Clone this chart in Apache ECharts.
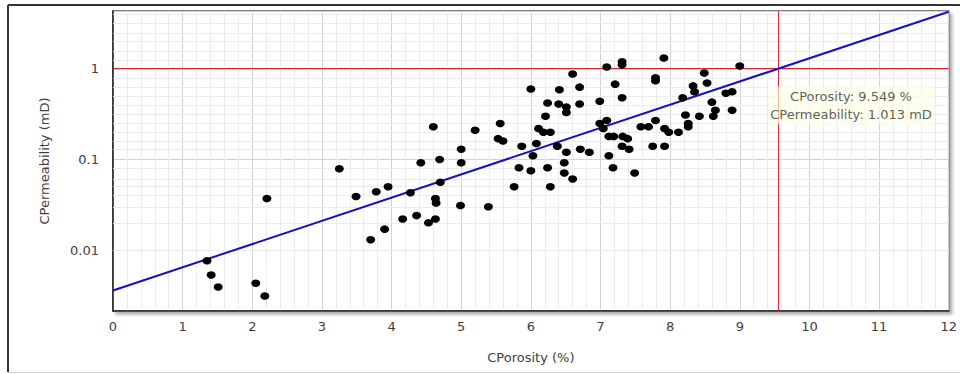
<!DOCTYPE html>
<html>
<head>
<meta charset="utf-8">
<script src="https://cdn.jsdelivr.net/npm/echarts@6/dist/echarts.min.js"></script>
<style>
html,body{margin:0;padding:0;background:#fff;}
#chart{width:960px;height:374px;}
</style>
</head>
<body>
<div id="chart"></div>
<script>
// Core sample values
const porosity = [1.35,1.41,1.51,2.05,2.18,2.21,3.25,3.49,3.78,3.95,
4.27,3.70,3.90,4.16,4.36,4.53,4.63,4.63,4.64,4.42,
4.60,4.69,4.70,5.00,5.00,4.99,5.20,5.39,5.56,5.53,
5.60,5.76,5.87,5.83,6.00,6.00,6.03,6.08,6.11,6.18,
6.21,6.24,6.24,6.28,6.28,6.38,6.41,6.40,6.51,6.51,
6.51,6.48,6.48,6.60,6.60,6.70,6.70,6.71,6.84,6.99,
6.99,7.09,7.04,7.09,7.31,7.31,7.21,7.31,7.12,7.19,
7.32,7.39,7.31,7.41,7.12,7.18,7.49,7.58,7.69,7.79,
7.79,7.79,7.91,7.75,7.92,7.92,7.98,8.12,8.18,8.22,
8.26,8.26,8.42,8.33,8.35,8.49,8.53,8.60,8.65,8.62,
8.80,8.89,8.89,9.00];
const permeability = [0.0076,0.0053,0.0039,0.0043,0.0031,0.037,0.079,0.039,0.044,0.050,
0.043,0.013,0.017,0.022,0.024,0.020,0.022,0.037,0.033,0.092,
0.23,0.10,0.056,0.13,0.092,0.031,0.21,0.030,0.25,0.17,
0.16,0.050,0.14,0.081,0.075,0.60,0.11,0.15,0.22,0.20,
0.30,0.42,0.081,0.050,0.20,0.14,0.59,0.41,0.38,0.33,
0.12,0.092,0.071,0.061,0.88,0.63,0.41,0.13,0.12,0.44,
0.25,0.27,0.22,1.05,1.20,1.11,0.68,0.48,0.18,0.18,
0.18,0.17,0.14,0.13,0.11,0.081,0.071,0.23,0.23,0.27,
0.80,0.74,1.32,0.14,0.14,0.22,0.20,0.20,0.48,0.31,
0.25,0.23,0.30,0.65,0.56,0.90,0.70,0.43,0.35,0.30,
0.54,0.56,0.35,1.08];
// Regression line end points
const fitX = [0, 12];
const fitY = [0.00357, 4.28];
// Cursor read-out
const cursorX = 9.549;
const cursorY = 1.013;
// Axis ranges
const xRange = [0, 12];
const yRange = [0.00212, 4.37];

const FONT = 'DejaVu Sans';
const points = porosity.map((p, i) => [p, permeability[i]]);
const fitData = fitX.map((x, i) => [x, fitY[i]]);

// minor log grid lines (10 even steps per decade)
const minorY = [];
const lo = Math.ceil(Math.log10(yRange[0]) * 10), hi = Math.floor(Math.log10(yRange[1]) * 10);
for (let k = lo; k <= hi; k++) {
  if (k % 10 !== 0) minorY.push({ yAxis: Math.pow(10, k / 10) });
}

const chart = echarts.init(document.getElementById('chart'), null, { renderer: 'svg' });
chart.setOption({
  animation: false,
  backgroundColor: '#fff',
  textStyle: { fontFamily: FONT },
  grid: {
    left: 113, right: 4, top: 11, bottom: 63,
    show: true, backgroundColor: '#fff', borderColor: '#555', borderWidth: 1.5,
    shadowColor: 'rgba(0,0,0,0.3)', shadowBlur: 3, shadowOffsetX: 3, shadowOffsetY: 3
  },
  graphic: [
    { type: 'line', shape: { x1: 8, y1: 5, x2: 960, y2: 5 }, style: { stroke: '#333', lineWidth: 2 }, silent: true },
    { type: 'line', shape: { x1: 8, y1: 5, x2: 8, y2: 372 }, style: { stroke: '#333', lineWidth: 2 }, silent: true },
    { type: 'line', shape: { x1: 8, y1: 372.5, x2: 960, y2: 372.5 }, style: { stroke: '#ccc', lineWidth: 1 }, silent: true }
  ],
  xAxis: {
    type: 'value', min: xRange[0], max: xRange[1], interval: 1,
    name: 'CPorosity (%)', nameLocation: 'middle', nameGap: 40,
    nameTextStyle: { fontFamily: FONT, fontSize: 13, color: '#404040' },
    axisLine: { show: true, lineStyle: { color: '#222', width: 1.5 } },
    axisTick: { show: false },
    axisLabel: { fontFamily: FONT, fontSize: 13, color: '#404040', margin: 9 },
    splitLine: { show: true, lineStyle: { color: '#d2d2d2', width: 1 } },
    minorTick: { show: false, splitNumber: 5 },
    minorSplitLine: { show: true, lineStyle: { color: '#ececec', width: 1 } }
  },
  yAxis: {
    type: 'log', min: yRange[0], max: yRange[1], logBase: 10,
    name: 'CPermeability (mD)', nameLocation: 'middle', nameGap: 62,
    nameTextStyle: { fontFamily: FONT, fontSize: 13, color: '#404040' },
    axisLine: { show: true, lineStyle: { color: '#222', width: 1.5 } },
    axisTick: { show: false },
    axisLabel: { fontFamily: FONT, fontSize: 13, color: '#404040', margin: 14,
      showMinLabel: false, showMaxLabel: false,
      formatter: v => String(+v.toPrecision(3)) },
    splitLine: { show: true, lineStyle: { color: '#d2d2d2', width: 1 } }
  },
  series: [
    {
      type: 'line', data: [], silent: true, z: 1,
      markLine: {
        z: 1, silent: true, symbol: 'none', label: { show: false }, animation: false,
        lineStyle: { color: '#ebebeb', width: 1, type: 'solid' },
        data: minorY
      }
    },
    {
      type: 'line', data: fitData, showSymbol: false, symbol: 'none', silent: true, z: 3,
      lineStyle: { color: '#1212c4', width: 2 }
    },
    {
      type: 'scatter', data: points, z: 4, silent: true,
      symbol: 'circle', symbolSize: [9, 7.5],
      itemStyle: { color: '#000', opacity: 1 }
    },
    {
      type: 'scatter', data: [[cursorX, cursorY]], symbolSize: 0, z: 5, silent: true,
      markLine: {
        z: 2, silent: true, symbol: 'none', label: { show: false }, animation: false,
        lineStyle: { color: '#d8262e', width: 1, type: 'solid' },
        data: [{ xAxis: cursorX }, { yAxis: cursorY }]
      },
      label: {
        show: true, position: 'inside', offset: [73, 37], align: 'center',
        fontFamily: FONT, fontSize: 13, color: '#333', lineHeight: 18,
        backgroundColor: 'rgba(255,255,228,0.85)', padding: [1, 2],
        formatter: () => 'CPorosity: ' + cursorX + ' %\nCPermeability: ' + cursorY + ' mD'
      }
    }
  ]
});
</script>
</body>
</html>
